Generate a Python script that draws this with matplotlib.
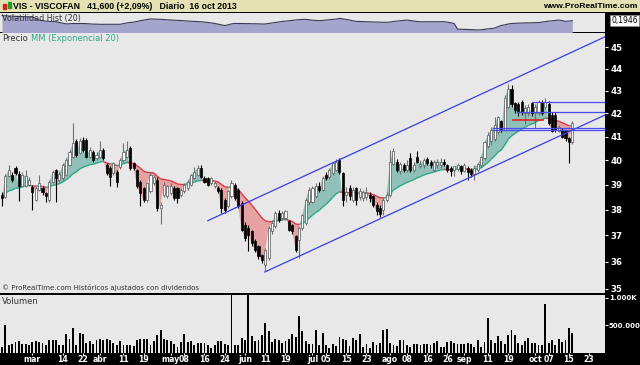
import numpy as np
import pandas as pd
import matplotlib
matplotlib.use("Agg")
import matplotlib.pyplot as plt
from matplotlib.collections import LineCollection
from matplotlib.patches import Rectangle

plt.rcParams['font.family'] = ['DejaVu Sans']

# ---- data (VIS - VISCOFAN, daily, 18 feb - 16 oct 2013) ----
holidays = ['2013-03-29', '2013-04-01', '2013-05-01']

opens = [38.6, 38.5, 39.35, 39.4, 39.67, 39.45, 38.95, 38.95, 39.0, 38.9,
         38.4, 38.8, 38.85, 38.65, 38.4, 39.12, 39.6, 39.2, 39.27, 39.4,
         39.8, 40.16, 40.8, 40.3, 40.86, 40.86, 40.16, 40.37, 40.1, 40.16,
         40.44, 39.81, 39.67, 39.47, 39.53, 39.74, 40.02, 40.16, 40.51, 39.9,
         39.6, 39.13, 38.86, 38.39, 38.73, 39.07, 39.2, 38.06, 38.59, 38.53,
         38.66, 38.86, 38.86, 38.59, 38.73, 38.86, 39.0, 39.27, 39.4, 39.67,
         39.27, 39.27, 39.07, 38.93, 38.86, 38.79, 38.39, 38.13, 38.53, 39.0,
         38.79, 38.26, 37.41, 37.28, 37.15, 36.77, 36.58, 36.26, 35.88, 36.14,
         37.15, 37.35, 37.86, 37.67, 37.67, 37.54, 37.41, 36.96, 36.83, 37.28,
         37.47, 38.3, 38.3, 38.53, 38.95, 38.79, 39.4, 39.33, 39.47, 39.6,
         40.02, 39.47, 38.6, 38.85, 38.4, 38.85, 38.5, 38.45, 38.5, 38.6,
         38.55, 38.2, 38.05, 38.0, 38.4, 38.6, 39.85, 39.95, 39.55, 39.8,
         39.6, 40.1, 39.6, 40.15, 39.75, 39.8, 40.05, 39.95, 39.6, 39.8,
         39.8, 39.95, 39.8, 39.7, 39.6, 39.65, 39.75, 39.55, 39.7, 39.6,
         39.45, 39.6, 39.8, 40.1, 40.6, 40.8, 40.9, 41.2, 41.65, 41.3,
         42.3, 43.1, 42.45, 42.4, 42.5, 42.0, 42.0, 42.45, 42.0, 42.0,
         42.52, 42.3, 42.4, 41.95, 41.93, 41.25, 41.3, 41.28, 40.95, 40.75]
highs = [38.7, 39.45, 39.8, 39.5, 39.75, 39.55, 39.5, 39.6, 39.3, 39.0,
         38.95, 39.4, 38.95, 38.7, 39.2, 39.6, 39.65, 39.55, 39.9, 40.1,
         40.45, 41.57, 40.9, 40.95, 41.0, 40.95, 40.55, 40.45, 40.35, 40.8,
         40.5, 39.9, 39.75, 39.95, 39.6, 40.1, 40.72, 40.8, 40.6, 39.95,
         39.65, 39.2, 38.9, 39.1, 39.5, 39.4, 39.3, 38.3, 39.1, 39.0,
         39.05, 38.95, 38.9, 38.85, 39.05, 39.2, 39.45, 39.74, 39.8, 39.8,
         39.35, 39.3, 39.3, 39.15, 38.95, 38.85, 38.45, 38.8, 39.2, 39.05,
         38.85, 38.35, 37.5, 37.4, 37.2, 36.85, 36.65, 36.3, 36.5, 37.35,
         37.6, 37.95, 37.99, 37.95, 38.0, 37.6, 37.45, 37.0, 37.35, 37.85,
         38.45, 38.9, 38.95, 39.05, 39.1, 39.35, 39.5, 39.7, 39.95, 40.05,
         40.1, 39.5, 38.9, 39.0, 38.9, 38.9, 38.85, 38.8, 38.9, 38.7,
         38.6, 38.3, 38.2, 38.5, 38.7, 40.45, 40.5, 40.05, 39.95, 39.9,
         40.0, 40.3, 39.95, 40.4, 40.0, 40.1, 40.15, 40.0, 40.0, 40.05,
         40.1, 40.05, 39.85, 39.75, 39.7, 39.9, 39.8, 39.9, 39.75, 39.7,
         39.8, 39.9, 40.2, 40.8, 41.2, 41.4, 41.85, 41.9, 41.7, 42.8,
         43.3, 43.25, 42.5, 42.5, 42.6, 42.35, 42.4, 42.5, 42.4, 42.6,
         42.6, 42.7, 42.55, 42.05, 42.05, 41.5, 41.35, 41.3, 41.0, 41.65]
lows = [38.15, 38.45, 39.3, 39.1, 39.4, 38.35, 38.9, 38.9, 38.95, 38.0,
        38.35, 38.75, 38.6, 38.3, 38.3, 39.05, 38.3, 39.1, 39.2, 39.35,
        39.75, 40.1, 40.15, 40.25, 40.35, 40.1, 40.1, 39.95, 40.0, 40.1,
        40.0, 39.4, 38.95, 39.4, 38.9, 39.65, 39.95, 40.1, 39.6, 39.6,
        38.85, 38.13, 38.3, 38.3, 38.65, 39.0, 37.95, 37.45, 38.5, 38.45,
        38.6, 38.4, 38.26, 38.5, 38.65, 38.8, 38.95, 39.2, 39.35, 39.27,
        39.05, 38.95, 39.0, 38.85, 38.65, 37.86, 37.86, 38.05, 38.45, 38.4,
        38.05, 37.15, 36.8, 36.39, 36.6, 36.35, 36.1, 35.95, 35.64, 36.05,
        37.05, 37.3, 37.5, 37.6, 37.6, 37.15, 37.05, 36.35, 36.14, 37.2,
        37.4, 38.2, 38.25, 38.45, 38.7, 38.75, 39.2, 39.25, 39.4, 39.55,
        39.45, 38.13, 38.3, 38.4, 38.3, 38.2, 38.4, 38.35, 38.4, 38.3,
        38.1, 37.8, 37.7, 37.8, 38.3, 38.5, 39.8, 39.5, 39.45, 39.5,
        39.5, 39.5, 39.5, 39.9, 39.7, 39.7, 39.8, 39.7, 39.5, 39.7,
        39.7, 39.75, 39.5, 39.35, 39.35, 39.55, 39.45, 39.5, 39.2, 39.3,
        39.2, 39.5, 39.7, 40.0, 40.5, 40.65, 40.8, 41.1, 41.2, 41.25,
        42.2, 42.3, 42.0, 41.9, 41.95, 41.55, 41.9, 41.9, 41.35, 41.95,
        41.95, 42.2, 41.5, 41.2, 41.2, 41.2, 40.95, 40.8, 39.9, 40.7]
closes = [38.45, 39.35, 39.6, 39.2, 39.47, 38.95, 39.4, 39.35, 39.2, 38.7,
          38.85, 39.05, 38.72, 38.53, 39.1, 39.52, 39.27, 39.45, 39.8, 40.0,
          40.35, 40.72, 40.23, 40.8, 40.44, 40.16, 40.44, 40.02, 40.23, 40.44,
          40.09, 39.47, 39.33, 39.88, 39.13, 40.02, 40.37, 40.44, 39.67, 39.67,
          38.93, 38.66, 38.39, 39.07, 39.4, 39.33, 38.06, 38.2, 39.0, 38.93,
          38.93, 38.46, 38.46, 38.79, 39.0, 39.13, 39.4, 39.53, 39.67, 39.33,
          39.13, 39.0, 39.27, 39.07, 38.73, 38.06, 37.99, 38.73, 39.07, 38.46,
          38.13, 37.21, 36.9, 37.02, 36.7, 36.45, 36.2, 36.07, 36.45, 37.28,
          37.47, 37.86, 37.6, 37.86, 37.93, 37.21, 37.15, 36.45, 37.28, 37.8,
          38.39, 38.8, 38.86, 38.93, 38.8, 39.27, 39.27, 39.6, 39.88, 39.95,
          39.53, 38.39, 38.7, 38.55, 38.8, 38.4, 38.75, 38.7, 38.65, 38.45,
          38.2, 37.95, 37.85, 38.4, 38.6, 39.95, 40.4, 39.6, 39.85, 39.6,
          39.8, 39.6, 39.8, 39.95, 39.85, 40.0, 39.9, 39.8, 39.95, 39.95,
          39.95, 39.85, 39.6, 39.55, 39.75, 39.8, 39.55, 39.8, 39.5, 39.45,
          39.7, 39.85, 40.15, 40.75, 41.05, 41.3, 41.5, 41.85, 41.3, 42.7,
          43.1, 42.4, 42.15, 42.1, 42.1, 42.23, 42.3, 42.0, 42.3, 42.52,
          42.0, 42.52, 41.6, 41.25, 41.28, 41.4, 41.0, 40.95, 40.75, 41.6]

# volume in thousands of shares
volume = [110, 500, 140, 170, 200, 218, 170, 170, 140, 200,
          212, 200, 188, 140, 230, 230, 242, 140, 140, 350,
          260, 458, 140, 368, 350, 182, 212, 170, 242, 254,
          230, 260, 230, 182, 140, 218, 152, 140, 140, 128,
          242, 260, 260, 260, 140, 218, 320, 410, 260, 242,
          218, 170, 110, 200, 338, 200, 218, 140, 188, 188,
          182, 140, 97, 140, 212, 218, 170, 140, 1450, 152,
          152, 278, 230, 1600, 302, 218, 230, 332, 543, 398,
          206, 254, 230, 188, 218, 260, 338, 290, 669, 398,
          218, 170, 170, 422, 152, 362, 140, 97, 170, 122,
          290, 260, 230, 128, 272, 242, 350, 110, 170, 97,
          200, 140, 182, 410, 440, 182, 152, 122, 230, 242,
          140, 110, 170, 170, 140, 170, 170, 140, 182, 218,
          110, 110, 200, 218, 182, 170, 170, 158, 182, 158,
          110, 230, 110, 200, 633, 242, 182, 302, 218, 170,
          332, 410, 332, 188, 140, 218, 278, 182, 182, 140,
          140, 892, 182, 230, 152, 260, 200, 242, 452, 362]

# historical volatility (20)
hist_vol = [0.237, 0.236, 0.234, 0.233, 0.231, 0.230, 0.229, 0.228, 0.227, 0.226,
            0.214, 0.200, 0.195, 0.191, 0.189, 0.187, 0.186, 0.180, 0.174, 0.168,
            0.169, 0.171, 0.171, 0.171, 0.171, 0.170, 0.168, 0.166, 0.165, 0.1645,
            0.1645, 0.1645, 0.1645, 0.1645, 0.1645, 0.1645, 0.170, 0.176, 0.180, 0.183,
            0.188, 0.195, 0.200, 0.205, 0.209, 0.208, 0.207, 0.206, 0.204, 0.202,
            0.200, 0.199, 0.197, 0.196, 0.194, 0.192, 0.190, 0.189, 0.187, 0.186,
            0.183, 0.180, 0.176, 0.172, 0.166, 0.160, 0.154, 0.160, 0.168, 0.172,
            0.171, 0.171, 0.170, 0.170, 0.169, 0.169, 0.168, 0.167, 0.167, 0.171,
            0.176, 0.180, 0.184, 0.188, 0.191, 0.194, 0.197, 0.200, 0.203, 0.205,
            0.206, 0.202, 0.199, 0.197, 0.195, 0.197, 0.200, 0.203, 0.205, 0.208,
            0.214, 0.210, 0.205, 0.200, 0.194, 0.189, 0.188, 0.187, 0.186, 0.185,
            0.184, 0.183, 0.182, 0.181, 0.181, 0.184, 0.188, 0.191, 0.194, 0.197,
            0.200, 0.196, 0.192, 0.188, 0.186, 0.186, 0.186, 0.186, 0.186, 0.186,
            0.186, 0.186, 0.183, 0.177, 0.171, 0.124, 0.123, 0.122, 0.121, 0.120,
            0.118, 0.117, 0.119, 0.122, 0.126, 0.129, 0.133, 0.145, 0.155, 0.160,
            0.167, 0.171, 0.173, 0.174, 0.175, 0.176, 0.177, 0.177, 0.178, 0.179,
            0.183, 0.187, 0.191, 0.194, 0.197, 0.200, 0.195, 0.189, 0.192, 0.1946]

ema_seed = 38.6

# trend channel (bar index, price) and horizontal lines (start bar, end bar, price)
channel_upper = [(61.0, 37.57), (178.7, 45.48)]
channel_lower = [(77.9, 35.62), (178.7, 41.93)]
blue_levels = [(157.3, 178.7, 42.51), (152.6, 178.7, 42.06),
               (145.5, 178.7, 41.36), (145.5, 178.7, 41.30)]
red_levels = [(151.4, 160.3, 41.71)]

tick_dates = ['2013-03-01', '2013-03-14', '2013-03-22', '2013-04-02', '2013-04-11',
              '2013-04-19', '2013-05-02', '2013-05-08', '2013-05-16', '2013-05-24',
              '2013-06-03', '2013-06-11', '2013-06-19', '2013-07-01', '2013-07-05',
              '2013-07-15', '2013-07-23', '2013-08-01', '2013-08-08', '2013-08-16',
              '2013-08-26', '2013-09-02', '2013-09-11', '2013-09-19', '2013-10-01',
              '2013-10-07', '2013-10-15', '2013-10-23']
tick_text = ['mar', '14', '22', 'abr', '11', '19', 'may', '08', '16', '24',
             'jun', '11', '19', 'jul', '05', '15', '23', 'ago', '08', '16',
             '26', 'sep', '11', '19', 'oct', '07', '15', '23']

price_ticks = [35, 36, 37, 38, 39, 40, 41, 42, 43, 44, 45]

# ---- derived ----
days = pd.bdate_range('2013-02-18', '2013-10-31')
days = days[~days.isin(pd.to_datetime(holidays))]
o = np.array(opens); h = np.array(highs); l = np.array(lows); c = np.array(closes)
n = len(c)
x = np.arange(n)
tick_pos = days.get_indexer(pd.to_datetime(tick_dates))

alpha = 2.0 / 21
ema = np.empty(n)
prev = ema_seed
for i in range(n):
    prev = prev + alpha * (c[i] - prev)
    ema[i] = prev

XMIN, XMAX = -0.6, 178.7
W, H = 640, 365
HEAD = ['Liberation Sans', 'DejaVu Sans']


def box(x0, y0, x1, y1):
    return [x0 / W, 1 - y1 / H, (x1 - x0) / W, (y1 - y0) / H]


fig = plt.figure(figsize=(6.4, 3.65), dpi=100, facecolor='black')

# title bar
axt = fig.add_axes(box(0, 0, 640, 12))
axt.set_facecolor('#e6e1b3')
axt.set_xlim(0, 640); axt.set_ylim(12, 0)
axt.set_xticks([]); axt.set_yticks([])
for s in axt.spines.values():
    s.set_visible(False)
axt.add_patch(Rectangle((3, 4), 3, 5, color='#d42020'))
axt.add_patch(Rectangle((8, 2), 3, 6, color='#20a020'))
axt.text(13, 6.3, 'VIS - VISCOFAN   41,600 (+2,09%)   Diario  16 oct 2013',
         fontsize=6.3, weight='bold', va='center', ha='left', family=HEAD)
axt.text(637, 6.5, 'www.ProRealTime.com', fontsize=6.1, weight='bold',
         va='center', ha='right', family=HEAD)

# volatility panel
axv = fig.add_axes(box(0, 13, 605, 32))
axv.set_facecolor('#e8e8e8')
axv.fill_between(x, hist_vol, 0, color='#a4a4cc', lw=0)
axv.plot(x, hist_vol, color='#3a3a55', lw=0.8)
axv.set_xlim(XMIN, XMAX); axv.set_ylim(0.10, 0.259)
axv.set_xticks([]); axv.set_yticks([])
for s in axv.spines.values():
    s.set_visible(False)
axv.text(0.003, 0.93, 'Volatilidad Hist (20)', transform=axv.transAxes,
         fontsize=5.8, color='#333333', va='top', ha='left')
axv.text(1.01, hist_vol[-1], '0,1946', transform=axv.get_yaxis_transform(),
         fontsize=5.5, va='center', ha='left', color='black',
         bbox=dict(boxstyle='square,pad=0.15', fc='white', ec='#888888', lw=0.6))

# price panel
ax = fig.add_axes(box(0, 33, 605, 293))
ax.set_facecolor('#e8e8e8')
ax.set_yscale('log')
ax.set_xlim(XMIN, XMAX); ax.set_ylim(34.85, 45.66)

ax.fill_between(x, c, ema, where=c >= ema, interpolate=True,
                color='#8fc1b9', lw=0, zorder=1)
ax.fill_between(x, c, ema, where=c < ema, interpolate=True,
                color='#e6a2a2', lw=0, zorder=1)
segs = [[(x[i], ema[i]), (x[i + 1], ema[i + 1])] for i in range(n - 1)]
seg_col = ['#2aa886' if c[i + 1] >= ema[i + 1] else '#d8384a' for i in range(n - 1)]
ax.add_collection(LineCollection(segs, colors=seg_col, linewidths=1.0, zorder=2))

up = c >= o
wick_col = np.where(up, '#707070', 'black')
ax.vlines(x, l, h, colors=wick_col, lw=0.8, zorder=3)
body_lo = np.minimum(o, c)
body_h = np.maximum(np.abs(c - o), 0.02)
ax.bar(x, body_h, bottom=body_lo, width=0.62,
       color=np.where(up, 'white', 'black'), edgecolor=np.where(up, '#555555', 'black'),
       linewidth=0.5, zorder=4)

for pts in (channel_upper, channel_lower):
    ax.plot([p[0] for p in pts], [p[1] for p in pts], color='#3b3bea', lw=0.9, zorder=5)
for x0, x1, lvl in blue_levels:
    ax.plot([x0, x1], [lvl, lvl], color='#4a4af0', lw=0.9, zorder=5)
for x0, x1, lvl in red_levels:
    ax.plot([x0, x1], [lvl, lvl], color='#e8201c', lw=1.2, zorder=5)

ax.yaxis.tick_right()
ax.set_yticks(price_ticks)
ax.set_yticklabels([str(t) for t in price_ticks])
ax.yaxis.set_minor_locator(plt.NullLocator())
ax.tick_params(axis='y', colors='white', labelsize=6.2, length=2.5, width=0.8, pad=1.5)
for lab in ax.get_yticklabels():
    lab.set_fontweight('bold')
ax.set_xticks([])
for s in ax.spines.values():
    s.set_visible(False)
ax.text(0.003, 0.995, 'Precio', transform=ax.transAxes, fontsize=6,
        color='#333333', va='top', ha='left')
ax.text(0.052, 0.995, 'MM (Exponencial 20)', transform=ax.transAxes, fontsize=6,
        color='#2aa886', va='top', ha='left')
ax.text(0.003, 0.006, '\u00a9 ProRealTime.com Hist\u00f3ricos ajustados con dividendos',
        transform=ax.transAxes, fontsize=5.0, color='#333333', va='bottom', ha='left')

# volume panel
axb = fig.add_axes(box(0, 295, 605, 353))
axb.set_facecolor('#e8e8e8')
axb.bar(x, volume, width=0.55, color='black')
axb.set_xlim(XMIN, XMAX); axb.set_ylim(0, 1050)
axb.yaxis.tick_right()
axb.set_yticks([500, 1000])
axb.set_yticklabels(['500.000', '1.000K'])
axb.tick_params(axis='y', colors='white', labelsize=5.0, length=2, width=0.8, pad=0.8)
axb.set_xticks(tick_pos)
axb.set_xticklabels(tick_text)
axb.tick_params(axis='x', colors='white', labelsize=5.6, length=1.5, width=0.8, pad=0.3)
for lab in axb.get_xticklabels() + axb.get_yticklabels():
    lab.set_fontweight('bold')
for s in axb.spines.values():
    s.set_visible(False)
axb.text(0.003, 0.97, 'Volumen', transform=axb.transAxes, fontsize=6,
         color='#333333', va='top', ha='left')

fig.savefig('out.png', dpi=100, facecolor=fig.get_facecolor())
